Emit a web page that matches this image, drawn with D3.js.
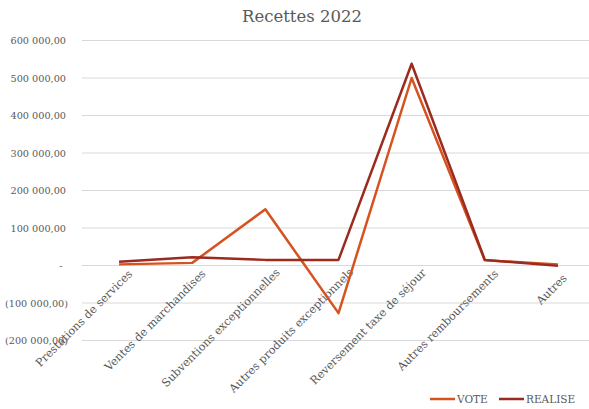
<!DOCTYPE html>
<html><head><meta charset="utf-8">
<script src="https://cdn.jsdelivr.net/npm/d3@7"></script>
<style>body{margin:0;background:#fff}svg{display:block}text{font-family:"DejaVu Serif",serif;fill:#595959}</style>
</head><body>
<script>
const categories = ["Prestations de services","Ventes de marchandises","Subventions exceptionnelles","Autres produits exceptionnels","Reversement taxe de séjour","Autres remboursements","Autres"];
const vote = [3000, 7000, 150000, -127000, 500000, 14000, 3000];
const realise = [10000, 22000, 15000, 15000, 538000, 15000, -1000];
const yTicks = [-200000,-100000,0,100000,200000,300000,400000,500000,600000];
const seriesNames = ["VOTE","REALISE"];
const colors = ["#D6521F","#9C2B1F"];

const W=589,H=409;
const svg=d3.select("body").append("svg").attr("width",W).attr("height",H);
const x=d3.scaleBand().domain(categories).range([82.5,594.5]);
const y=d3.scaleLinear().domain([-200000,600000]).range([340.5,40.5]);

svg.append("text").attr("x",302).attr("y",22).attr("text-anchor","middle").style("font-size","16.5px").text("Recettes 2022");

const fmt=v=>{ if(v===0) return "-"; const s=d3.format(",.2f")(Math.abs(v)).replace(/,/g," ").replace(".",","); return v<0?"("+s+")":s; };

const ga=svg.append("g");
yTicks.forEach(t=>{
  ga.append("line").attr("x1",82).attr("x2",W).attr("y1",y(t)).attr("y2",y(t)).attr("stroke","#d9d9d9").attr("stroke-width",1);
  ga.append("text").attr("x",t===0?61:(t<0?68:66)).attr("y",y(t)+3.5).attr("text-anchor",t===0?"middle":"end").style("font-size","9.7px").text(fmt(t));
});

categories.forEach(c=>{
  const t=svg.append("text").attr("text-anchor","end").style("font-size","11.2px").text(c);
  const L=t.node().getComputedTextLength();
  const k=0.045*L;
  const cx=x(c)+x.bandwidth()/2+8+k, cy=y(0)+15-k;
  t.attr("transform",`translate(${cx},${cy}) rotate(-45)`);
});

const line=d3.line().x((d,i)=>x(categories[i])+x.bandwidth()/2).y(d=>y(d));
[vote,realise].forEach((s,k)=>{
  svg.append("path").datum(s).attr("d",line).attr("fill","none").attr("stroke",colors[k]).attr("stroke-width",2.5).attr("stroke-linejoin","round");
});

const lx=[430,499];
seriesNames.forEach((n,k)=>{
  svg.append("line").attr("x1",lx[k]).attr("x2",lx[k]+25).attr("y1",399).attr("y2",399).attr("stroke",colors[k]).attr("stroke-width",2.5);
  svg.append("text").attr("x",lx[k]+27).attr("y",403).style("font-size","10.5px").text(n);
});
</script>
</body></html>
